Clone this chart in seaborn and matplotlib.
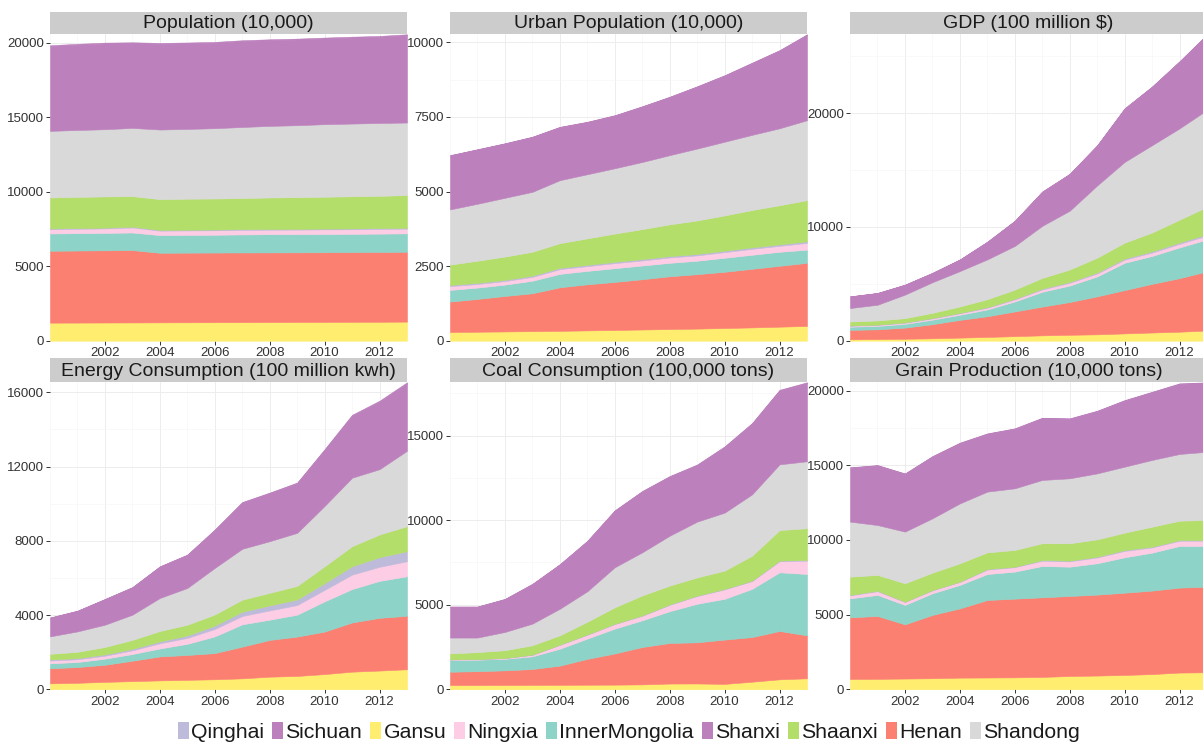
import matplotlib
matplotlib.use("Agg")
import matplotlib.pyplot as plt
from matplotlib.patches import Patch
from matplotlib.ticker import MultipleLocator
import pandas as pd
import seaborn as sns

# ---------------------------------------------------------------- data
years = list(range(2000, 2014))

# stacking order, bottom to top
provinces = ["Gansu", "Henan", "InnerMongolia", "Ningxia", "Qinghai",
             "Shaanxi", "Shandong", "Shanxi", "Sichuan"]
legend_order = ["Qinghai", "Sichuan", "Gansu", "Ningxia", "InnerMongolia",
                "Shanxi", "Shaanxi", "Henan", "Shandong"]

population = {
    "Gansu":         [1210, 1215, 1220, 1225, 1230, 1235, 1240, 1245, 1250, 1255, 1260, 1265, 1270, 1280],
    "Henan":         [4825, 4835, 4845, 4855, 4670, 4675, 4675, 4675, 4675, 4675, 4675, 4680, 4685, 4690],
    "InnerMongolia": [1160, 1165, 1170, 1180, 1185, 1190, 1195, 1210, 1220, 1220, 1225, 1225, 1230, 1230],
    "Ningxia":       [290, 295, 300, 340, 300, 300, 300, 305, 305, 305, 310, 310, 315, 320],
    "Qinghai":       [48, 48, 49, 49, 50, 50, 51, 51, 52, 52, 53, 53, 54, 54],
    "Shaanxi":       [2077, 2092, 2096, 2051, 2065, 2080, 2079, 2084, 2108, 2123, 2137, 2157, 2166, 2196],
    "Shandong":      [4470, 4490, 4510, 4580, 4670, 4680, 4720, 4770, 4805, 4830, 4870, 4880, 4890, 4870],
    "Shanxi":        [5687, 5722, 5751, 5686, 5750, 5740, 5730, 5759, 5749, 5749, 5748, 5768, 5778, 5857],
    "Sichuan":       [58, 58, 59, 59, 60, 60, 60, 61, 61, 61, 62, 62, 62, 63],
}

urban_population = {
    "Gansu":         [290, 300, 310, 320, 330, 345, 360, 375, 390, 405, 425, 445, 470, 495],
    "Henan":         [1020, 1100, 1190, 1270, 1460, 1545, 1610, 1685, 1770, 1825, 1885, 1965, 2040, 2115],
    "InnerMongolia": [390, 380, 380, 420, 450, 450, 460, 460, 450, 450, 470, 470, 470, 440],
    "Ningxia":       [130, 120, 120, 130, 160, 160, 170, 170, 180, 180, 190, 200, 200, 230],
    "Qinghai":       [38, 39, 40, 41, 42, 43, 44, 45, 46, 47, 48, 49, 50, 51],
    "Shaanxi":       [682, 741, 780, 799, 828, 887, 946, 1005, 1064, 1123, 1182, 1251, 1310, 1379],
    "Shandong":      [1850, 1910, 1970, 2010, 2110, 2150, 2190, 2250, 2320, 2410, 2470, 2520, 2580, 2680],
    "Shanxi":        [1808, 1818, 1817, 1837, 1776, 1746, 1765, 1855, 1944, 2074, 2213, 2403, 2602, 2862],
    "Sichuan":       [12, 12, 13, 13, 14, 14, 15, 15, 16, 16, 17, 17, 18, 18],
}

gdp = {
    "Gansu":         [120, 140, 170, 210, 270, 330, 400, 470, 520, 560, 640, 720, 790, 900],
    "Henan":         [830, 860, 980, 1240, 1560, 1820, 2170, 2530, 2880, 3340, 3810, 4280, 4710, 5200],
    "InnerMongolia": [280, 300, 330, 400, 450, 600, 880, 1300, 1450, 1750, 2400, 2450, 2700, 2800],
    "Ningxia":       [80, 85, 95, 110, 130, 150, 180, 210, 240, 260, 280, 300, 320, 340],
    "Qinghai":       [30, 32, 35, 40, 45, 50, 60, 70, 80, 90, 100, 110, 120, 130],
    "Shaanxi":       [340, 363, 370, 450, 555, 700, 800, 940, 1090, 1300, 1390, 1650, 2000, 2400],
    "Shandong":      [1190, 1380, 2070, 2690, 3110, 3500, 3840, 4580, 5170, 6350, 7100, 7680, 8030, 8520],
    "Shanxi":        [1020, 1029, 868, 817, 1015, 1543, 2201, 2998, 3225, 3512, 4688, 5134, 5870, 6605],
    "Sichuan":       [10, 11, 12, 13, 15, 17, 19, 22, 25, 28, 32, 36, 40, 45],
}

energy = {
    "Gansu":         [320, 350, 400, 440, 480, 510, 540, 590, 680, 720, 820, 950, 1010, 1080],
    "Henan":         [810, 850, 920, 1100, 1290, 1340, 1410, 1710, 1980, 2120, 2290, 2650, 2840, 2880],
    "InnerMongolia": [270, 270, 330, 360, 430, 600, 900, 1200, 1090, 1180, 1630, 1800, 1990, 2130],
    "Ningxia":       [150, 150, 160, 200, 280, 320, 400, 450, 500, 520, 620, 780, 760, 810],
    "Qinghai":       [60, 60, 70, 80, 100, 130, 180, 230, 270, 300, 360, 450, 520, 540],
    "Shaanxi":       [300, 340, 400, 480, 560, 580, 600, 650, 680, 730, 910, 1080, 1220, 1350],
    "Shandong":      [940, 1100, 1200, 1360, 1780, 1980, 2510, 2740, 2780, 2860, 3250, 3690, 3520, 4060],
    "Shanxi":        [1005, 1104, 1372, 1470, 1688, 1775, 2042, 2488, 2584, 2670, 3015, 3340, 3635, 3630],
    "Sichuan":       [15, 16, 18, 20, 22, 25, 28, 32, 36, 40, 45, 50, 55, 60],
}

coal = {
    "Gansu":         [250, 250, 255, 260, 265, 270, 275, 290, 340, 345, 320, 450, 590, 650],
    "Henan":         [790, 820, 865, 940, 1135, 1530, 1845, 2210, 2400, 2435, 2620, 2640, 2860, 2540],
    "InnerMongolia": [690, 680, 680, 750, 1000, 1200, 1470, 1580, 1880, 2280, 2410, 2850, 3470, 3630],
    "Ningxia":       [30, 30, 40, 90, 230, 230, 270, 270, 380, 460, 560, 460, 660, 790],
    "Qinghai":       [10, 10, 12, 14, 16, 18, 20, 22, 25, 28, 30, 32, 35, 38],
    "Shaanxi":       [350, 410, 460, 550, 550, 750, 970, 1180, 1110, 1070, 1080, 1470, 1800, 1880],
    "Shandong":      [940, 860, 1080, 1280, 1570, 1800, 2370, 2550, 2950, 3300, 3430, 3630, 3890, 3960],
    "Shanxi":        [1820, 1820, 1938, 2336, 2614, 2962, 3340, 3598, 3496, 3344, 3882, 4180, 4368, 4626],
    "Sichuan":       [20, 20, 22, 24, 26, 28, 30, 32, 34, 36, 38, 40, 42, 44],
}

grain = {
    "Gansu":         [690, 700, 720, 740, 780, 790, 800, 830, 890, 920, 960, 1020, 1120, 1140],
    "Henan":         [4130, 4210, 3630, 4240, 4640, 5190, 5270, 5330, 5360, 5420, 5510, 5590, 5690, 5730],
    "InnerMongolia": [1270, 1410, 1300, 1450, 1570, 1740, 1810, 2100, 1960, 2100, 2370, 2540, 2790, 2730],
    "Ningxia":       [200, 250, 200, 200, 200, 300, 300, 350, 360, 390, 430, 350, 350, 350],
    "Qinghai":       [30, 40, 20, 20, 20, 40, 30, 50, 50, 50, 60, 50, 50, 50],
    "Shaanxi":       [1220, 1050, 1230, 1160, 1230, 1110, 1120, 1120, 1160, 1160, 1160, 1340, 1290, 1340],
    "Shandong":      [3690, 3340, 3460, 3640, 4010, 4070, 4130, 4240, 4350, 4420, 4420, 4470, 4470, 4570],
    "Shanxi":        [3610, 3990, 3870, 4138, 4038, 3867, 3987, 4136, 3986, 4165, 4425, 4534, 4694, 4613],
    "Sichuan":       [30, 30, 30, 32, 32, 33, 33, 34, 34, 35, 35, 36, 36, 37],
}

indicators = [
    ("Population (10,000)", population),
    ("Urban Population (10,000)", urban_population),
    ("GDP (100 million $)", gdp),
    ("Energy Consumption (100 million kwh)", energy),
    ("Coal Consumption (100,000 tons)", coal),
    ("Grain Production (10,000 tons)", grain),
]
y_steps = [5000, 2500, 10000, 4000, 5000, 5000]

# ---------------------------------------------------------------- style
palette = {
    "Qinghai": "#BEBADA", "Sichuan": "#BC80BD", "Gansu": "#FFED6F",
    "Ningxia": "#FCCDE5", "InnerMongolia": "#8DD3C7", "Shanxi": "#BC80BD",
    "Shaanxi": "#B3DE69", "Henan": "#FB8072", "Shandong": "#D9D9D9",
}

sns.set_theme(style="white")
plt.rcParams["font.family"] = ["Liberation Sans", "DejaVu Sans"]

# tidy table of every panel
records = []
for title, table in indicators:
    for prov in provinces:
        for yr, val in zip(years, table[prov]):
            records.append({"indicator": title, "province": prov, "year": yr, "value": val})
df = pd.DataFrame(records)

W, H = 1203, 744
fig = plt.figure(figsize=(W / 100, H / 100), dpi=100)

col_left = [50, 450, 850]
panel_w = 357
rows = [  # (strip top, strip bottom, panel bottom) in pixels
    (11.7, 34.3, 340.7),
    (358.3, 382.3, 689.3),
]

text_dark = "#1A1A1A"
tick_col = "#333333"

for i, (title, _) in enumerate(indicators):
    r, c = divmod(i, 3)
    s_top, s_bot, p_bot = rows[r]
    x0 = col_left[c]
    ax = fig.add_axes([x0 / W, 1 - p_bot / H, panel_w / W, (p_bot - s_bot) / H])
    strip = fig.add_axes([x0 / W, 1 - s_bot / H, panel_w / W, (s_bot - s_top) / H])

    wide = (df[df["indicator"] == title]
            .pivot(index="year", columns="province", values="value")[provinces])
    ax.stackplot(wide.index, *[wide[p].values for p in provinces],
                 colors=[palette[p] for p in provinces],
                 edgecolor="face", linewidth=0.4, zorder=2)

    total = wide.sum(axis=1).max()
    ax.set_xlim(years[0], years[-1])
    ax.set_ylim(0, total)
    ax.set_facecolor("white")
    ax.xaxis.set_major_locator(MultipleLocator(2))
    ax.xaxis.set_minor_locator(MultipleLocator(1))
    ax.yaxis.set_major_locator(MultipleLocator(y_steps[i]))
    ax.yaxis.set_minor_locator(MultipleLocator(y_steps[i] / 2))
    ax.set_xticks([2002, 2004, 2006, 2008, 2010, 2012])
    ax.grid(True, which="major", color="#EDEDED", linewidth=0.7, zorder=0)
    ax.grid(True, which="minor", color="#F5F5F5", linewidth=0.4, zorder=0)
    ax.set_axisbelow(True)
    for sp in ax.spines.values():
        sp.set_visible(False)
    ax.tick_params(axis="both", which="major", length=3, width=0.7, color=tick_col,
                   labelcolor=tick_col, labelsize=9.5, pad=1.5, left=True, bottom=True)
    ax.tick_params(axis="both", which="minor", length=0)
    ax.set_xlabel("")
    ax.set_ylabel("")

    strip.set_facecolor("#CCCCCC")
    strip.set_xticks([])
    strip.set_yticks([])
    for sp in strip.spines.values():
        sp.set_visible(False)
    strip.text(0.5, 0.47, title, ha="center", va="center", fontsize=14,
               color=text_dark, transform=strip.transAxes)

handles = [Patch(facecolor=palette[p], edgecolor="none", label=p) for p in legend_order]
fig.legend(handles=handles, loc="center", ncol=len(handles),
           bbox_to_anchor=(629 / W, 1 - 732 / H), frameon=False,
           fontsize=15.3, handlelength=0.5, handleheight=0.85,
           handletextpad=0.12, columnspacing=0.38, borderpad=0,
           labelcolor=text_dark)

fig.savefig("out.png", dpi=100)
